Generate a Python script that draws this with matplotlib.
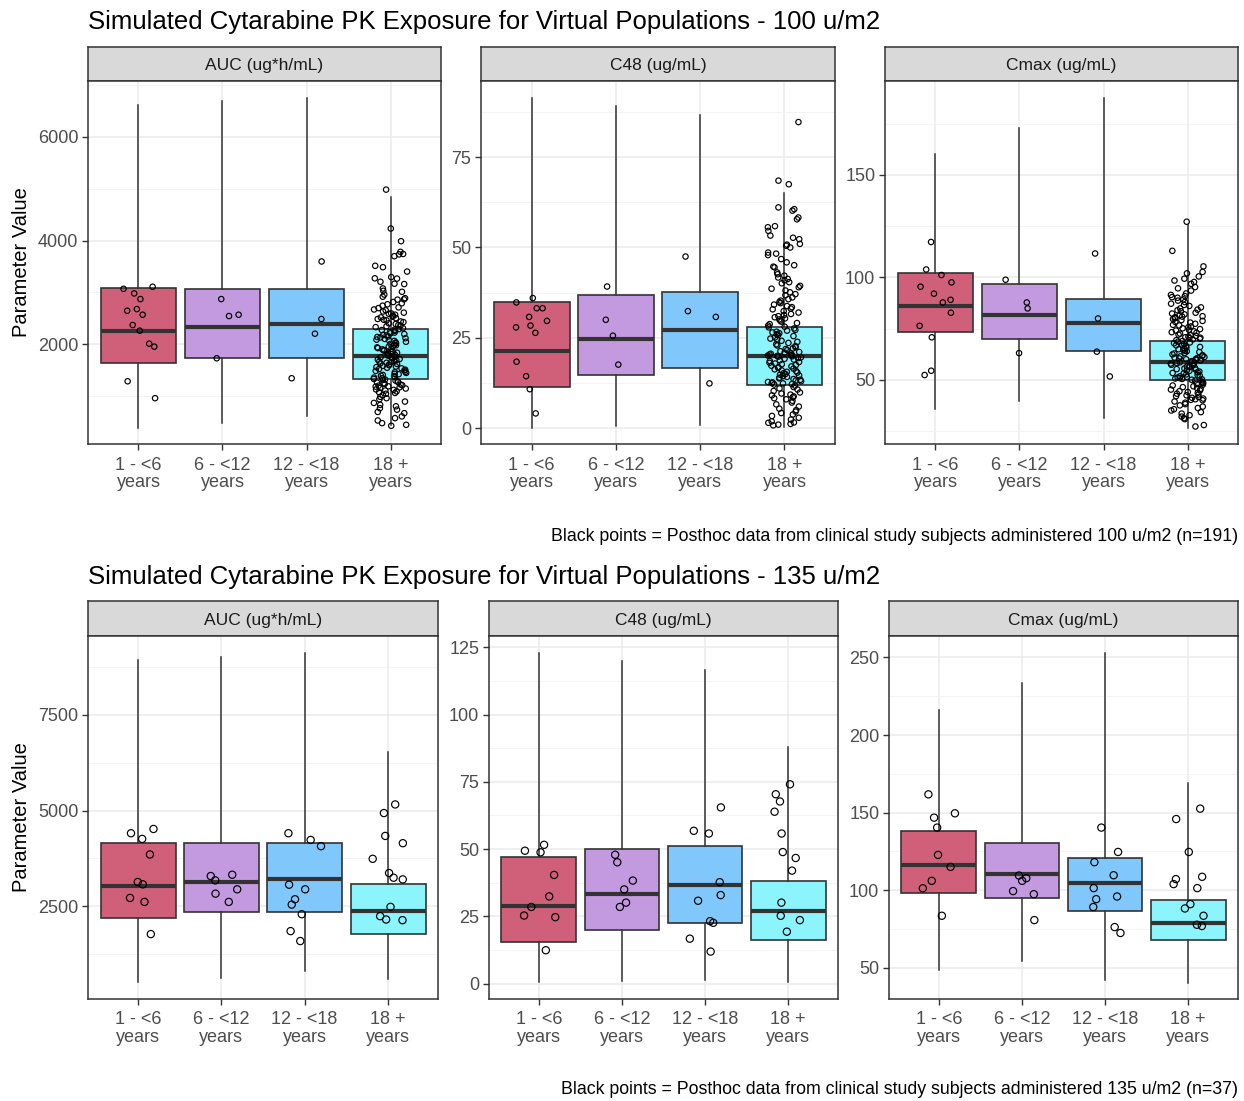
import numpy as np
import matplotlib.pyplot as plt

plt.rcParams['font.family'] = ['Liberation Sans', 'DejaVu Sans']

W, H = 1244, 1101

groups = ["1 - <6\nyears", "6 - <12\nyears", "12 - <18\nyears", "18 +\nyears"]
fills = ["#D0607A", "#C39ADF", "#80C8FB", "#8BF4FD"]
params = ["AUC (ug*h/mL)", "C48 (ug/mL)", "Cmax (ug/mL)"]

# simulated populations: (whisker low, q1, median, q3, whisker high) per age group
box_100_auc = [(397, 1635, 2256, 3083, 6615), (481, 1744, 2333, 3070, 6680),
               (628, 1744, 2391, 3070, 6756), (450, 1327, 1776, 2295, 4833)]
box_100_c48 = [(0.2, 11.5, 21.4, 35.0, 91.5), (0.5, 14.7, 24.6, 36.9, 89.1),
               (0.8, 16.7, 27.1, 37.7, 86.7), (0.3, 11.9, 19.9, 28.1, 65.0)]
box_100_cmax = [(35.7, 73.1, 85.8, 102.0, 160.1), (39.8, 69.7, 81.7, 96.5, 172.8),
                (31.3, 64.0, 77.5, 89.3, 187.7), (26.7, 49.8, 58.5, 69.0, 125.6)]

box_135_auc = [(507, 2197, 3020, 4147, 8930), (628, 2344, 3141, 4147, 9008),
               (819, 2344, 3219, 4147, 9130), (602, 1772, 2379, 3089, 6530)]
box_135_c48 = [(0.4, 15.6, 29.0, 47.2, 123.1), (1.0, 20.0, 33.3, 49.9, 120.1),
               (1.5, 22.6, 36.7, 51.0, 116.7), (0.4, 16.2, 26.8, 38.3, 87.9)]
box_135_cmax = [(48.7, 98.4, 116.2, 138.4, 216.0), (54.3, 94.8, 110.6, 130.3, 233.5),
                (42.3, 86.4, 105.0, 120.7, 253.2), (40.6, 67.8, 78.9, 93.9, 169.3)]

# posthoc estimates, 100 u/m2 (n=191)
auc100_g1 = [3109, 3070, 2872, 2981, 2679, 2570, 2647, 2372, 2263, 1955, 2013, 1288, 962]
auc100_g2 = [2570, 2545, 2872, 1731]
auc100_g3 = [3596, 2487, 2205, 1346]
auc100_g4 = [4981, 4231, 3987, 3782, 3741, 3733, 3698, 3513,
             3486, 3402, 3295, 3272, 3266, 3205, 3168, 3161, 3077, 3031, 3012,
             2958, 2917, 2889, 2866, 2861, 2815, 2790, 2772, 2744, 2712, 2698, 2671, 2655, 2633,
             2610, 2596, 2588, 2571, 2553, 2532, 2519, 2504,
             2488, 2473, 2461, 2440, 2428, 2405, 2391, 2372, 2360, 2347, 2331, 2310, 2294, 2281,
             2275, 2259, 2240, 2226, 2212, 2198, 2183, 2170, 2152, 2141, 2133, 2118, 2104, 2090,
             2078, 2066, 2049, 2035, 2020, 2008,
             1991, 1982, 1966, 1955, 1941, 1927, 1913, 1902, 1890, 1877, 1862, 1850, 1838, 1827,
             1815, 1802, 1791, 1779, 1764, 1752, 1740, 1728, 1717, 1705, 1693, 1680, 1669, 1657,
             1644, 1632, 1621, 1609, 1597, 1585, 1572, 1560, 1548, 1537, 1524, 1511,
             1497, 1488, 1470, 1462, 1449, 1431, 1424, 1410, 1395, 1388, 1371, 1359, 1346, 1333,
             1322, 1314, 1300, 1285, 1271, 1262, 1250, 1238, 1226, 1211, 1203, 1190, 1185, 1172,
             1160, 1148, 1131, 1122, 1110, 1094, 1078, 1063, 1047, 1021,
             988, 962, 941, 897, 871, 833, 805, 769, 741, 697, 673, 611, 577, 532, 481, 449, 430]

c48_100_g1 = [36.0, 33.2, 34.8, 33.2, 30.8, 29.7, 28.4, 27.9, 26.4, 18.4, 14.4, 10.8, 4.1]
c48_100_g2 = [39.2, 30.0, 25.6, 17.6]
c48_100_g3 = [47.5, 32.4, 30.8, 12.4]
c48_100_g4 = [84.7, 68.5, 67.5, 61.1, 60.6, 60.2,
              58.3, 57.8, 55.9, 55.6, 54.6, 53.3, 52.7, 52.3, 51.0, 50.8, 50.5, 50.0,
              48.6, 48.3, 47.9, 46.8, 45.9, 45.1, 44.7, 44.5, 43.1, 42.6, 42.2, 41.7, 41.3, 40.9,
              40.4, 40.1,
              39.4, 39.0, 38.6, 38.1, 37.6, 37.1, 36.8, 36.2, 35.7, 35.3, 34.9, 34.6, 34.2, 33.8,
              33.5, 33.1, 32.9, 32.4, 32.0, 31.6, 31.3, 31.0, 30.7, 30.4, 30.1,
              29.8, 29.5, 29.1, 28.8, 28.4, 28.1, 27.9, 27.6, 27.2, 27.0, 26.7, 26.5, 26.3, 26.0,
              25.8, 25.5, 25.1, 24.8, 24.5, 24.2, 23.9, 23.6, 23.2, 22.9, 22.7, 22.4, 22.1, 21.9,
              21.6, 21.3, 21.1, 20.9, 20.7, 20.6, 20.4, 20.3, 20.2, 20.1, 20.0, 19.9,
              19.8, 19.6, 19.4, 19.2, 19.0, 18.8, 18.6, 18.3, 18.1, 17.9, 17.7, 17.5, 17.3, 17.1,
              16.9, 16.7, 16.5, 16.3, 16.0, 15.8, 15.6, 15.4, 15.2, 15.0, 14.8, 14.6, 14.4, 14.2,
              14.0, 13.8, 13.6, 13.4, 13.2, 13.0, 12.8, 12.7, 12.5, 12.4, 12.2, 12.1,
              11.8, 11.4, 11.0, 10.7, 10.3, 9.9, 9.6, 9.3, 9.1, 8.8, 8.6, 8.3, 8.0, 7.6, 7.1, 6.6,
              6.0, 5.4, 5.0, 4.6, 4.2, 3.8, 3.4, 2.9, 2.4, 1.9, 1.6, 1.5, 1.2, 1.0, 0.8]

cmax100_g1 = [117.2, 103.8, 101.1, 97.5, 95.4, 92.0, 87.7, 89.0, 82.7, 76.3, 70.7, 54.4, 52.3]
cmax100_g2 = [98.8, 87.7, 84.8, 63.0]
cmax100_g3 = [111.6, 79.9, 63.7, 51.6]
cmax100_g4 = [127.1, 112.9, 105.3, 102.6, 101.9, 100.4,
              99.3, 98.4, 97.7, 96.8, 95.2, 94.6, 93.5, 92.1, 91.4, 90.8, 90.3, 90.0,
              89.2, 88.6, 87.9, 87.1, 86.5, 86.0, 85.3, 84.8, 84.2, 83.9, 83.4, 82.7, 82.3, 81.9,
              81.5, 81.0, 80.8, 80.5, 80.2, 80.0,
              79.6, 79.1, 78.7, 78.2, 77.9, 77.3, 76.8, 76.5, 76.0, 75.6, 75.1, 74.7, 74.4, 74.0,
              73.6, 73.2, 72.9, 72.5, 72.0, 71.7, 71.4, 71.0, 70.7, 70.5, 70.3, 70.0,
              69.7, 69.3, 68.9, 68.6, 68.2, 67.8, 67.5, 67.1, 66.8, 66.4, 66.0, 65.7, 65.3, 64.9,
              64.5, 64.2, 63.9, 63.5, 63.1, 62.8, 62.4, 62.0, 61.7, 61.4, 61.1, 60.8, 60.6, 60.4,
              60.2, 60.0,
              59.7, 59.4, 59.1, 58.8, 58.5, 58.2, 57.9, 57.6, 57.3, 57.0, 56.7, 56.4, 56.1, 55.8,
              55.5, 55.2, 54.9, 54.6, 54.3, 54.0, 53.6, 53.3, 53.0, 52.6, 52.3, 52.0, 51.7, 51.4,
              51.1, 50.8, 50.6, 50.4, 50.2, 50.0,
              49.6, 49.2, 48.8, 48.4, 48.0, 47.6, 47.2, 46.8, 46.4, 46.0, 45.6, 45.2, 44.8, 44.4,
              44.0, 43.6, 43.2, 42.8, 42.4, 42.0, 41.6, 41.2, 40.8, 40.5, 40.2, 40.0,
              39.4, 38.8, 38.1, 37.5, 36.9, 36.2, 35.6, 35.0, 34.2, 33.5, 32.7, 32.0, 31.2, 30.8,
              27.9, 27.2]

# posthoc estimates, 135 u/m2 (n=37)
auc135_g1 = [4519, 4407, 4259, 3852, 3133, 3072, 2613, 2717, 1772]
auc135_g2 = [3176, 3289, 3323, 2829, 2942, 2613]
auc135_g3 = [4407, 4233, 4069, 3063, 2942, 2682, 2543, 2292, 1850, 1590]
auc135_g4 = [5160, 4935, 4337, 4147, 3739, 3367, 3245, 3202, 2483, 2240, 2136, 2153]

c48_135_g1 = [51.6, 49.4, 48.8, 40.4, 32.4, 28.5, 25.3, 24.7, 12.4]
c48_135_g2 = [47.9, 45.1, 38.3, 35.0, 30.1, 28.5]
c48_135_g3 = [56.8, 55.8, 65.5, 37.7, 32.9, 30.8, 22.6, 23.2, 16.7, 11.9]
c48_135_g4 = [74.1, 70.4, 67.7, 63.9, 55.8, 48.9, 46.7, 42.0, 30.1, 25.2, 23.6, 19.3]

cmax135_g1 = [161.8, 149.6, 146.8, 140.4, 122.8, 115.1, 106.1, 101.3, 83.6]
cmax135_g2 = [106.1, 107.8, 109.5, 97.5, 99.5, 80.8]
cmax135_g3 = [140.4, 124.7, 118.1, 109.7, 101.4, 96.0, 94.3, 89.2, 76.3, 72.5]
cmax135_g4 = [152.6, 145.9, 124.7, 108.7, 107.2, 104.0, 101.4, 91.1, 88.3, 83.6, 77.8, 77.0]


def px_axes(fig, left, top, right, bottom):
    return fig.add_axes([left / W, 1 - bottom / H, (right - left) / W, (bottom - top) / H])


def jitter(n, shift):
    # deterministic hash-style scatter in [-0.2, 0.2]
    k = np.arange(n) + 1.0
    u = (np.sin(k * 12.9898 + shift * 78.233) * 43758.5453) % 1.0
    return (u - 0.5) * 0.4


def draw_facet(fig, xr, strip_top, top, bottom, label, boxes, points,
               major, minor, msize, shift):
    left, right = xr
    sax = px_axes(fig, left, strip_top, right, top)
    sax.set_facecolor("#D9D9D9")
    sax.set_xticks([])
    sax.set_yticks([])
    for s in sax.spines.values():
        s.set_color("#333333")
        s.set_linewidth(1.1)
    sax.text(0.5, 0.45, label, ha='center', va='center', fontsize=12.5, color='#1A1A1A',
             transform=sax.transAxes)

    ax = px_axes(fig, left, top, right, bottom)
    stats = [dict(whislo=b[0], q1=b[1], med=b[2], q3=b[3], whishi=b[4]) for b in boxes]
    bp = ax.bxp(stats, positions=[1, 2, 3, 4], widths=0.9, showfliers=False,
                showcaps=False, patch_artist=True,
                boxprops=dict(edgecolor="#333333", linewidth=1.2),
                medianprops=dict(color="#333333", linewidth=3.0, solid_capstyle='butt'),
                whiskerprops=dict(color="#333333", linewidth=1.1))
    for patch, c in zip(bp['boxes'], fills):
        patch.set_facecolor(c)
        patch.set_zorder(2)
    for m in bp['medians']:
        m.set_zorder(3)

    allv = []
    for i, vals in enumerate(points):
        xs = (i + 1) + jitter(len(vals), shift + 0.31 * i)
        ax.scatter(xs, vals, s=msize, facecolors='none', edgecolors='black',
                   linewidths=0.85, zorder=4)
        allv += list(vals)
    for b in boxes:
        allv += [b[0], b[4]]
    lo, hi = min(allv), max(allv)
    pad = (hi - lo) * 0.05
    ax.set_ylim(lo - pad, hi + pad)
    ax.set_xlim(0.4, 4.6)

    ax.set_xticks([1, 2, 3, 4])
    ax.set_xticklabels(groups, linespacing=1.05)
    ax.set_yticks(major)
    ax.set_yticks(minor, minor=True)
    ax.set_xticks([1.5, 2.5, 3.5], minor=True)
    ax.grid(which='major', color='#EBEBEB', linewidth=1.1, zorder=0)
    ax.grid(which='minor', axis='y', color='#F2F2F2', linewidth=0.6, zorder=0)
    ax.set_axisbelow(True)
    ax.tick_params(which='major', length=4, width=1.0, color='#333333',
                   labelsize=13, labelcolor='#4D4D4D', pad=3)
    ax.tick_params(axis='x', which='major', pad=5)
    ax.tick_params(which='minor', length=0)
    for s in ax.spines.values():
        s.set_color("#333333")
        s.set_linewidth(1.1)
    return ax


fig = plt.figure(figsize=(W / 100, H / 100), dpi=100)

blocks = [
    dict(title="Simulated Cytarabine PK Exposure for Virtual Populations - 100 u/m2",
         caption="Black points = Posthoc data from clinical study subjects administered 100 u/m2 (n=191)",
         title_y=22, caption_y=536, strip_top=47, top=81, bottom=444, msize=15,
         xs=[(88, 441), (481, 835), (885, 1238)],
         facets=[(box_100_auc, [auc100_g1, auc100_g2, auc100_g3, auc100_g4],
                  [2000, 4000, 6000], [1000, 3000, 5000, 7000]),
                 (box_100_c48, [c48_100_g1, c48_100_g2, c48_100_g3, c48_100_g4],
                  [0, 25, 50, 75], [12.5, 37.5, 62.5, 87.5]),
                 (box_100_cmax, [cmax100_g1, cmax100_g2, cmax100_g3, cmax100_g4],
                  [50, 100, 150], [25, 75, 125, 175])]),
    dict(title="Simulated Cytarabine PK Exposure for Virtual Populations - 135 u/m2",
         caption="Black points = Posthoc data from clinical study subjects administered 135 u/m2 (n=37)",
         title_y=577, caption_y=1090, strip_top=601, top=636, bottom=999, msize=27,
         xs=[(88, 438), (489, 838), (889, 1238)],
         facets=[(box_135_auc, [auc135_g1, auc135_g2, auc135_g3, auc135_g4],
                  [2500, 5000, 7500], [1250, 3750, 6250, 8750]),
                 (box_135_c48, [c48_135_g1, c48_135_g2, c48_135_g3, c48_135_g4],
                  [0, 25, 50, 75, 100, 125], [12.5, 37.5, 62.5, 87.5, 112.5]),
                 (box_135_cmax, [cmax135_g1, cmax135_g2, cmax135_g3, cmax135_g4],
                  [50, 100, 150, 200, 250], [75, 125, 175, 225])]),
]

for bi, blk in enumerate(blocks):
    fig.text(88 / W, 1 - blk['title_y'] / H, blk['title'], ha='left', va='center',
             fontsize=18.5, color='black')
    fig.text(1238 / W, 1 - blk['caption_y'] / H, blk['caption'], ha='right', va='center',
             fontsize=12.8, color='black')
    fig.text(22 / W, 1 - (blk['top'] + blk['bottom']) / 2 / H, "Parameter Value",
             rotation=90, ha='center', va='center', fontsize=14.5, color='black')
    for fi, (xr, (boxes, pts, major, minor)) in enumerate(zip(blk['xs'], blk['facets'])):
        draw_facet(fig, xr, blk['strip_top'], blk['top'], blk['bottom'], params[fi],
                   boxes, pts, major, minor, blk['msize'], 0.17 * fi + 0.5 * bi)

fig.savefig("out.png", dpi=100)
